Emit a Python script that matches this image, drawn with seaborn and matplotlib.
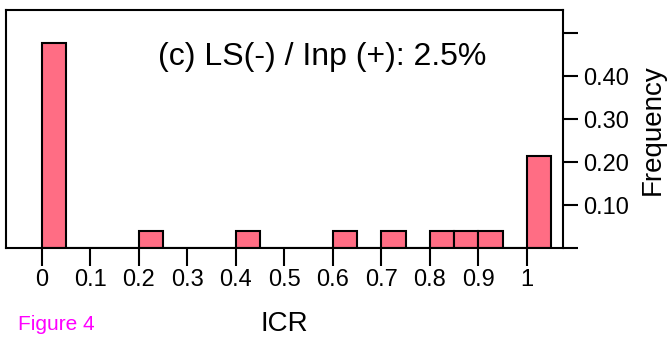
import numpy as np
import pandas as pd
import matplotlib
matplotlib.use("Agg")
import matplotlib.pyplot as plt
import seaborn as sns

# 直方图数据：ICR 分箱左端点与频率
bin_starts = [0.0, 0.2, 0.4, 0.6, 0.7, 0.8, 0.85, 0.9, 1.0]
frequency = [0.477, 0.04, 0.04, 0.04, 0.04, 0.04, 0.04, 0.04, 0.215]
bin_width = 0.05
x_ticks = [0, 0.1, 0.2, 0.3, 0.4, 0.5, 0.6, 0.7, 0.8, 0.9, 1.0]
x_labels = ["0", "0.1", "0.2", "0.3", "0.4", "0.5", "0.6", "0.7", "0.8", "0.9", "1"]
y_ticks = [0.0, 0.1, 0.2, 0.3, 0.4, 0.5]
y_labels = ["", "0.10", "0.20", "0.30", "0.40", ""]
title = "(c) LS(-) / Inp (+): 2.5%"

sns.set_style("ticks", {"axes.edgecolor": "black", "text.color": "black",
                        "axes.labelcolor": "black", "xtick.color": "black",
                        "ytick.color": "black"})
plt.rcParams['font.family'] = ['Liberation Sans', 'DejaVu Sans']

fig = plt.figure(figsize=(6.7, 3.37), dpi=100)
ax = fig.add_axes([0.009, 0.263, 0.831, 0.707])

df = pd.DataFrame({"icr": np.array(bin_starts) + bin_width / 2, "freq": frequency})
edges = list(np.arange(0, 1.05 + bin_width / 2, bin_width))
sns.histplot(data=df, x="icr", weights="freq", bins=edges, ax=ax,
             color="#ff6d84", alpha=1, edgecolor="black", linewidth=1.5)

ax.set_xlim(-0.074, 1.074)
ax.set_ylim(0, 0.553)

for s in ax.spines.values():
    s.set_linewidth(1.5)
    s.set_visible(True)

ax.set_xticks(x_ticks, labels=x_labels)
ax.yaxis.tick_right()
ax.yaxis.set_label_position("right")
ax.set_yticks(y_ticks, labels=y_labels)
ax.tick_params(axis="x", direction="out", length=13, width=1.5, pad=2, labelsize=17)
ax.tick_params(axis="y", direction="out", length=11, width=1.5, pad=3.5, labelsize=17)

ax.set_xlabel("ICR", fontsize=20, labelpad=14)
ax.set_ylabel("Frequency", fontsize=20, labelpad=8)

ax.text(0.567, 0.803, title, transform=ax.transAxes, fontsize=23,
        ha="center", va="center")
fig.text(0.027, 0.01, "Figure 4", color="#ff00ff", fontsize=15, ha="left", va="bottom")

fig.savefig("out.png", dpi=100)
plt.close(fig)
